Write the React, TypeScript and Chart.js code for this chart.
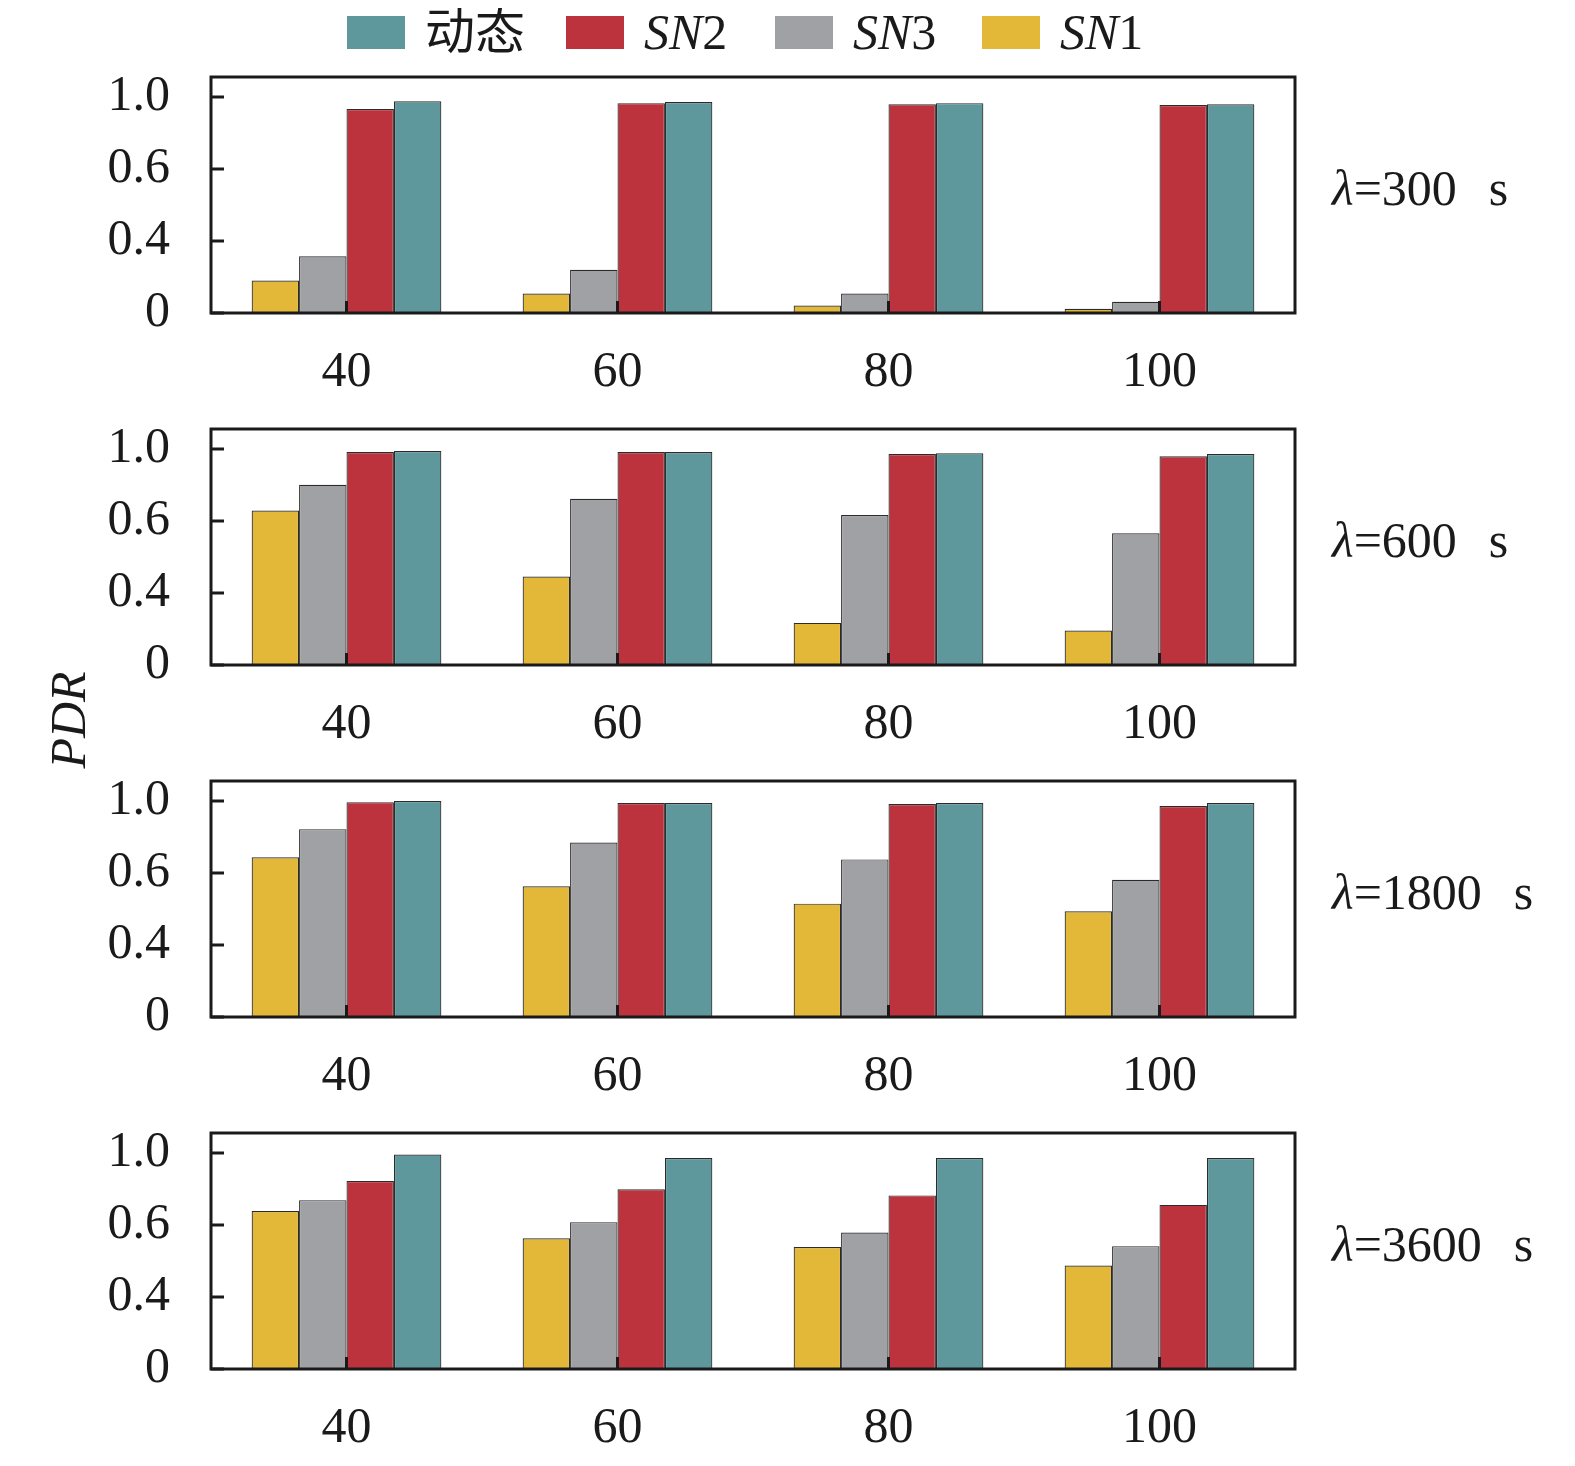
import React, { useEffect, useRef } from "react";
import { Chart, registerables } from "chart.js";

Chart.register(...registerables);

const FONT = "'Liberation Serif', 'Times New Roman', 'Noto Sans CJK SC', serif";
const INK = "#1a1a1a";

const CATEGORIES = ["40", "60", "80", "100"];
const LAMBDAS = ["300", "600", "1800", "3600"];

// ticks sit evenly spaced on the axis but are labelled 0 / 0.4 / 0.6 / 1.0
const Y_TICK_VALUES = [0, 1 / 3, 2 / 3, 1];
const Y_TICK_LABELS = ["0", "0.4", "0.6", "1.0"];
const Y_MAX = 1.093;

// one row per λ panel (300, 600, 1800, 3600 s)
const SN1 = [
  [0.15, 0.09, 0.035, 0.02],
  [0.715, 0.41, 0.195, 0.16],
  [0.74, 0.605, 0.525, 0.49],
  [0.732, 0.605, 0.565, 0.479],
];
const SN3 = [
  [0.263, 0.2, 0.09, 0.052],
  [0.835, 0.77, 0.695, 0.61],
  [0.87, 0.808, 0.73, 0.636],
  [0.782, 0.68, 0.632, 0.569],
];
const SN2 = [
  [0.945, 0.972, 0.967, 0.963],
  [0.986, 0.986, 0.977, 0.967],
  [0.995, 0.991, 0.986, 0.977],
  [0.871, 0.832, 0.804, 0.76],
];
const DYNAMIC = [
  [0.981, 0.977, 0.972, 0.967],
  [0.991, 0.986, 0.981, 0.977],
  [1.0, 0.991, 0.991, 0.991],
  [0.993, 0.977, 0.977, 0.977],
];

const COLORS = {
  sn1: "#E3B839",
  sn3: "#A0A1A5",
  sn2: "#BD333D",
  dyn: "#5E979C",
};

const PANEL_H = 352;

const framePlugin = (lambda: string) => ({
  id: "panelFrame",
  afterDatasetsDraw(chart: Chart) {
    const { ctx, chartArea: a, scales } = chart;
    ctx.save();
    ctx.strokeStyle = INK;
    ctx.lineWidth = 3;
    ctx.beginPath();
    Y_TICK_VALUES.forEach((v) => {
      const y = scales.y.getPixelForValue(v);
      ctx.moveTo(a.left, y);
      ctx.lineTo(a.left + 13, y);
    });
    CATEGORIES.forEach((_, i) => {
      const x = scales.x.getPixelForValue(i);
      ctx.moveTo(x, a.bottom);
      ctx.lineTo(x, a.bottom - 12);
    });
    ctx.stroke();
    ctx.strokeRect(a.left, a.top, a.right - a.left, a.bottom - a.top);

    // λ label on the right
    ctx.fillStyle = INK;
    ctx.textBaseline = "middle";
    ctx.textAlign = "left";
    const y = (a.top + a.bottom) / 2 - 3;
    let x = a.right + 37;
    ctx.font = `italic 50px ${FONT}`;
    ctx.fillText("λ", x, y);
    x += ctx.measureText("λ").width;
    ctx.font = `50px ${FONT}`;
    const t = "=" + lambda;
    ctx.fillText(t, x, y);
    x += ctx.measureText(t).width + 32;
    ctx.fillText("s", x, y);
    ctx.restore();
  },
});

const Panel: React.FC<{ index: number }> = ({ index }) => {
  const canvasRef = useRef<HTMLCanvasElement | null>(null);
  const chartRef = useRef<Chart | null>(null);

  useEffect(() => {
    if (!canvasRef.current) return;
    const ctx = canvasRef.current.getContext("2d");
    if (!ctx) return;

    const mk = (label: string, data: number[], color: string) => ({
      label,
      data,
      backgroundColor: color,
      borderColor: "#2b2b2b",
      borderWidth: 1.2,
      categoryPercentage: 0.7,
      barPercentage: 1.0,
    });

    chartRef.current = new Chart(ctx, {
      type: "bar",
      data: {
        labels: CATEGORIES,
        datasets: [
          mk("SN1", SN1[index], COLORS.sn1),
          mk("SN3", SN3[index], COLORS.sn3),
          mk("SN2", SN2[index], COLORS.sn2),
          mk("动态", DYNAMIC[index], COLORS.dyn),
        ],
      },
      options: {
        responsive: true,
        maintainAspectRatio: false,
        animation: false,
        layout: { padding: { top: 17, right: 272, left: 0, bottom: 0 } },
        plugins: {
          legend: { display: false },
          tooltip: { enabled: false },
        },
        scales: {
          x: {
            grid: { display: false, drawTicks: false },
            border: { display: false },
            ticks: {
              color: INK,
              padding: 30,
              autoSkip: false,
              maxRotation: 0,
              font: { family: FONT, size: 50 },
            },
            afterFit: (scale: any) => {
              scale.height = 99;
              scale.paddingLeft = 0;
              scale.paddingRight = 0;
            },
          },
          y: {
            min: 0,
            max: Y_MAX,
            grid: { display: false, drawTicks: false },
            border: { display: false },
            afterBuildTicks: (scale: any) => {
              scale.ticks = Y_TICK_VALUES.map((v) => ({ value: v }));
            },
            ticks: {
              color: INK,
              padding: 41,
              autoSkip: false,
              font: { family: FONT, size: 50 },
              callback: (_v: any, i: number) => Y_TICK_LABELS[i],
            },
            afterFit: (scale: any) => {
              scale.width = 203;
              scale.paddingTop = 0;
              scale.paddingBottom = 0;
            },
          },
        },
      },
      plugins: [framePlugin(LAMBDAS[index])],
    });

    return () => {
      chartRef.current?.destroy();
    };
  }, [index]);

  return (
    <div
      style={{
        position: "absolute",
        left: 0,
        top: 52 + PANEL_H * index,
        width: 1559,
        height: PANEL_H,
      }}
    >
      <canvas ref={canvasRef}></canvas>
    </div>
  );
};

const LegendItem: React.FC<{ left: number; color: string; children: React.ReactNode }> = ({
  left,
  color,
  children,
}) => (
  <div
    style={{
      position: "absolute",
      left,
      top: 0,
      height: 48,
      display: "flex",
      alignItems: "center",
      whiteSpace: "nowrap",
    }}
  >
    <span style={{ display: "inline-block", width: 58, height: 33, background: color }} />
    <span style={{ marginLeft: 20, fontSize: 50, lineHeight: "50px" }}>{children}</span>
  </div>
);

export default function App() {
  return (
    <div
      style={{
        position: "relative",
        width: 1559,
        height: 1450,
        fontFamily: FONT,
        color: INK,
      }}
    >
      <LegendItem left={339} color={COLORS.dyn}>
        动态
      </LegendItem>
      <LegendItem left={558} color={COLORS.sn2}>
        <i>SN</i>2
      </LegendItem>
      <LegendItem left={767} color={COLORS.sn3}>
        <i>SN</i>3
      </LegendItem>
      <LegendItem left={974} color={COLORS.sn1}>
        <i>SN</i>1
      </LegendItem>

      <div
        style={{
          position: "absolute",
          left: 60,
          top: 712,
          transform: "translate(-50%, -50%) rotate(-90deg)",
          fontSize: 50,
          fontStyle: "italic",
          lineHeight: 1,
          whiteSpace: "nowrap",
        }}
      >
        PDR
      </div>

      {LAMBDAS.map((_, i) => (
        <Panel key={i} index={i} />
      ))}
    </div>
  );
}
